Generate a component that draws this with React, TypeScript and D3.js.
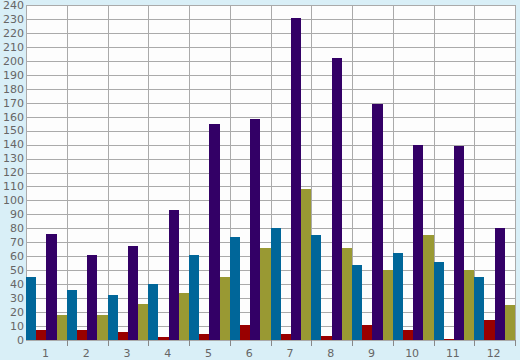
import React from 'react';
import { scaleBand, scaleLinear, range } from 'd3';

const categories = ['1', '2', '3', '4', '5', '6', '7', '8', '9', '10', '11', '12'];
const seriesBlue = [45, 36, 32, 40, 61, 74, 80, 75, 54, 62, 56, 45];
const seriesRed = [7, 7, 6, 2, 4, 11, 4, 3, 11, 7, 1, 14];
const seriesPurple = [76, 61, 67, 93, 155, 158, 231, 202, 169, 140, 139, 80];
const seriesOlive = [18, 18, 26, 34, 45, 66, 108, 66, 50, 75, 50, 25];
const yTicks = range(0, 241, 10);

const series = [
  { name: 'blue', values: seriesBlue, color: '#006699' },
  { name: 'red', values: seriesRed, color: '#990000' },
  { name: 'purple', values: seriesPurple, color: '#330066' },
  { name: 'olive', values: seriesOlive, color: '#999933' },
];

const W = 520;
const H = 360;
const margin = { top: 5, right: 5, bottom: 20, left: 26 };

export default function App() {
  const x0 = scaleBand<string>()
    .domain(categories)
    .range([margin.left, W - margin.right])
    .padding(0);
  const x1 = scaleBand<string>()
    .domain(series.map(s => s.name))
    .range([0, x0.bandwidth()])
    .padding(0);
  const y = scaleLinear().domain([0, 240]).range([H - margin.bottom, margin.top]);

  const grid = '#aaaaaa';
  const font = 'DejaVu Sans, Verdana, sans-serif';

  return (
    <div style={{ position: 'absolute', left: 0, top: 0 }}>
      <svg width={W} height={H} style={{ display: 'block' }}>
        <rect x={0} y={0} width={W} height={H} fill="#d9eff7" />
        <rect
          x={margin.left}
          y={margin.top}
          width={W - margin.left - margin.right}
          height={H - margin.top - margin.bottom}
          fill="#fdfdfd"
        />
        {/* horizontal grid */}
        {yTicks.map(t => (
          <line
            key={t}
            x1={margin.left}
            x2={W - margin.right}
            y1={Math.round(y(t)) + 0.5}
            y2={Math.round(y(t)) + 0.5}
            stroke={grid}
            strokeWidth={1}
          />
        ))}
        {/* vertical grid at band edges */}
        {categories.map((c, i) => {
          const xx = Math.round(x0(c)!) + 0.5;
          return (
            <line key={c} x1={xx} x2={xx} y1={margin.top} y2={H - margin.bottom} stroke={grid} />
          );
        })}
        <line
          x1={W - margin.right + 0.5}
          x2={W - margin.right + 0.5}
          y1={margin.top}
          y2={H - margin.bottom}
          stroke={grid}
        />
        {/* bars */}
        {categories.map((c, i) => (
          <g key={c} transform={`translate(${x0(c)},0)`}>
            {series.map(s => (
              <rect
                key={s.name}
                x={x1(s.name)}
                y={y(s.values[i])}
                width={x1.bandwidth()}
                height={y(0) - y(s.values[i])}
                fill={s.color}
                shapeRendering="crispEdges"
              />
            ))}
          </g>
        ))}
        {/* x ticks */}
        {categories.map(c => {
          const xx = Math.round(x0(c)! + x0.bandwidth()) + 0.5;
          return (
            <line key={c} x1={xx} x2={xx} y1={H - margin.bottom} y2={H - margin.bottom + 6} stroke="#888" />
          );
        })}
        {categories.map(c => (
          <text
            key={c}
            x={x0(c)! + x0.bandwidth() / 2 - 1}
            y={357}
            textAnchor="middle"
            fill="#666"
            fontSize={11}
            fontFamily={font}
          >
            {c}
          </text>
        ))}
        {yTicks.map(t => (
          <text
            key={t}
            x={margin.left - 2}
            y={y(t)}
            dy="0.35em"
            textAnchor="end"
            fill="#666"
            fontSize={11}
            fontFamily={font}
          >
            {t}
          </text>
        ))}
      </svg>
    </div>
  );
}
